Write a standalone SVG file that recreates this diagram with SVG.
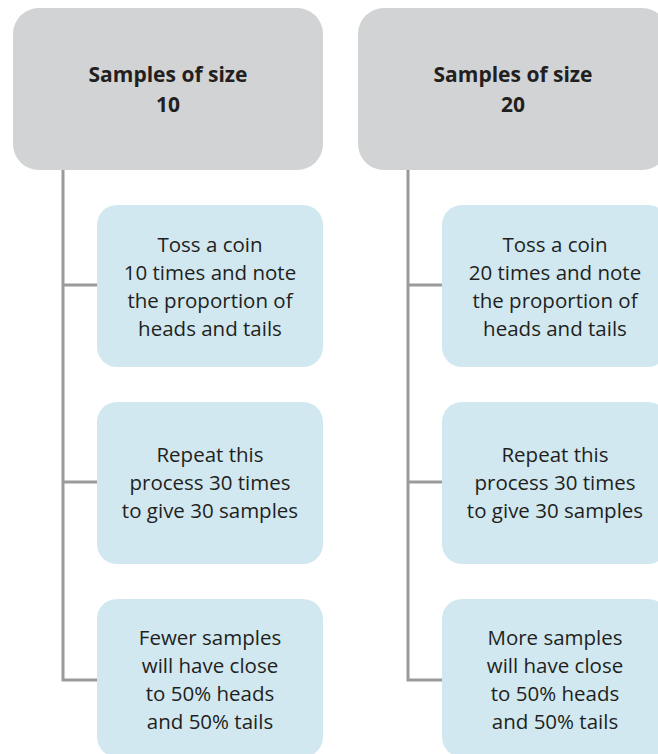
<svg xmlns="http://www.w3.org/2000/svg" width="658" height="754" viewBox="0 0 658 754">
  <style>
    .head { fill: #d1d3d4; }
    .step { fill: #d1e8f1; }
    .t { font-family: "Open Sans", "Noto Sans", sans-serif; fill: #231f20; text-anchor: middle; }
    .th { font-size: 21px; font-weight: bold; }
    .ts { font-size: 20.5px; }
    .wire { fill: none; stroke: #999a9c; stroke-width: 3; }
  </style>
  <rect width="658" height="754" fill="#ffffff"/>

  <!-- connectors: trunk from each header down to its steps -->
  <g id="connectors">
    <path class="wire" d="M63 170 V680 H100 M63 285 H100 M63 482 H100"/>
    <path class="wire" d="M408 170 V680 H445 M408 285 H445 M408 482 H445"/>
  </g>

  <!-- left column -->
  <g id="header-10">
    <rect class="head" x="13" y="8" width="310" height="162" rx="26"/>
    <text class="t th" x="168" y="82">Samples of size</text>
    <text class="t th" x="168" y="112">10</text>
  </g>
  <g id="toss-10">
    <rect class="step" x="97" y="205" width="226" height="162" rx="20"/>
    <text class="t ts" x="210" y="252">Toss a coin</text>
    <text class="t ts" x="210" y="280">10 times and note</text>
    <text class="t ts" x="210" y="308">the proportion of</text>
    <text class="t ts" x="210" y="336">heads and tails</text>
  </g>
  <g id="repeat-10">
    <rect class="step" x="97" y="402" width="226" height="162" rx="20"/>
    <text class="t ts" x="210" y="462">Repeat this</text>
    <text class="t ts" x="210" y="490">process 30 times</text>
    <text class="t ts" x="210" y="518">to give 30 samples</text>
  </g>
  <g id="result-10">
    <rect class="step" x="97" y="599" width="226" height="158" rx="20"/>
    <text class="t ts" x="210" y="645">Fewer samples</text>
    <text class="t ts" x="210" y="673">will have close</text>
    <text class="t ts" x="210" y="701">to 50% heads</text>
    <text class="t ts" x="210" y="729">and 50% tails</text>
  </g>

  <!-- right column -->
  <g id="header-20">
    <rect class="head" x="358" y="8" width="310" height="162" rx="26"/>
    <text class="t th" x="513" y="82">Samples of size</text>
    <text class="t th" x="513" y="112">20</text>
  </g>
  <g id="toss-20">
    <rect class="step" x="442" y="205" width="226" height="162" rx="20"/>
    <text class="t ts" x="555" y="252">Toss a coin</text>
    <text class="t ts" x="555" y="280">20 times and note</text>
    <text class="t ts" x="555" y="308">the proportion of</text>
    <text class="t ts" x="555" y="336">heads and tails</text>
  </g>
  <g id="repeat-20">
    <rect class="step" x="442" y="402" width="226" height="162" rx="20"/>
    <text class="t ts" x="555" y="462">Repeat this</text>
    <text class="t ts" x="555" y="490">process 30 times</text>
    <text class="t ts" x="555" y="518">to give 30 samples</text>
  </g>
  <g id="result-20">
    <rect class="step" x="442" y="599" width="226" height="158" rx="20"/>
    <text class="t ts" x="555" y="645">More samples</text>
    <text class="t ts" x="555" y="673">will have close</text>
    <text class="t ts" x="555" y="701">to 50% heads</text>
    <text class="t ts" x="555" y="729">and 50% tails</text>
  </g>
</svg>
